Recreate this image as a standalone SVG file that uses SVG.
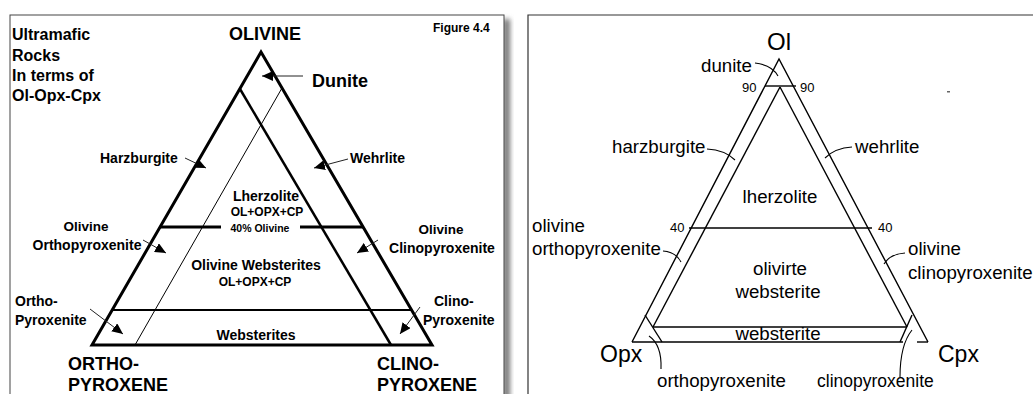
<svg xmlns="http://www.w3.org/2000/svg" width="1033" height="394" viewBox="0 0 1033 394">
<defs>
<filter id="sh" x="-50%" y="-10%" width="200%" height="120%"><feGaussianBlur stdDeviation="2.5"/></filter>
<marker id="ah" markerUnits="userSpaceOnUse" markerWidth="12" markerHeight="10" refX="11" refY="5" orient="auto"><path d="M0,0 L11,5 L0,10 Z" fill="#000"/></marker>
</defs>
<style>
.b{font-family:"Liberation Sans",Arial,sans-serif;font-weight:bold;fill:#000}
.r{font-family:"Liberation Sans",Arial,sans-serif;fill:#000;font-size:18.7px}
.m{text-anchor:middle}
.thick{stroke:#000;stroke-width:3;fill:none}
.med{stroke:#000;stroke-width:2.5;fill:none}
.thin{stroke:#000;stroke-width:1;fill:none}
.arr{stroke:#222;stroke-width:1;fill:none;marker-end:url(#ah)}
.ln{stroke:#000;stroke-width:1.4;fill:none}
.tk{stroke:#000;stroke-width:1.1;fill:none}
</style>
<rect width="1033" height="394" fill="#fff"/>
<g id="left-panel">
<rect x="503" y="19" width="7" height="390" fill="#777" filter="url(#sh)"/>
<rect x="10" y="15" width="494" height="400" fill="#fff" stroke="#444" stroke-width="1"/>
</g>
<g id="left-diagram">
<path class="thick" d="M261,52 L432,345 L92,345 Z" stroke-linejoin="miter"/>
<line class="med" x1="240" y1="89" x2="391" y2="345"/>
<line class="thin" x1="282" y1="88" x2="135" y2="345"/>
<line class="thick" x1="160" y1="227" x2="221" y2="227"/>
<line class="thick" x1="300" y1="227" x2="363" y2="227"/>
<line stroke="#000" stroke-width="2" x1="112" y1="310" x2="411" y2="310"/>
</g>
<g id="left-connectors">
<line class="arr" x1="303" y1="76" x2="262" y2="76"/>
<line class="arr" x1="185" y1="158" x2="206" y2="168"/>
<line class="arr" x1="348" y1="159" x2="314" y2="168"/>
<line class="arr" x1="143" y1="240" x2="166" y2="253"/>
<line class="arr" x1="378" y1="240" x2="357" y2="253"/>
<line class="arr" x1="90" y1="309" x2="123" y2="334"/>
<line class="arr" x1="420" y1="307" x2="400" y2="334"/>
</g>
<g id="left-labels">
<text class="b" x="12" y="40" font-size="16">Ultramafic</text>
<text class="b" x="12" y="61" font-size="16">Rocks</text>
<text class="b" x="12" y="81" font-size="16">In terms of</text>
<text class="b" x="12" y="101" font-size="16">Ol-Opx-Cpx</text>
<text class="b m" x="265" y="40" font-size="18">OLIVINE</text>
<text class="b" x="433" y="32" font-size="12">Figure 4.4</text>
<text class="b" x="312" y="87" font-size="18">Dunite</text>
<text class="b" x="100" y="163" font-size="14">Harzburgite</text>
<text class="b" x="350" y="163" font-size="14">Wehrlite</text>
<text class="b m" x="266" y="201" font-size="14">Lherzolite</text>
<text class="b m" x="267" y="216" font-size="12">OL+OPX+CP</text>
<text class="b m" x="260" y="232" font-size="10.5">40% Olivine</text>
<text class="b m" x="86" y="231" font-size="13.5">Olivine</text>
<text class="b m" x="87" y="250" font-size="14">Orthopyroxenite</text>
<text class="b m" x="441" y="234" font-size="13.5">Olivine</text>
<text class="b m" x="442" y="253" font-size="14">Clinopyroxenite</text>
<text class="b m" x="256" y="270" font-size="14">Olivine Websterites</text>
<text class="b m" x="255" y="286" font-size="12">OL+OPX+CP</text>
<text class="b" x="15" y="306" font-size="14">Ortho-</text>
<text class="b" x="15" y="325" font-size="14">Pyroxenite</text>
<text class="b" x="434" y="306" font-size="14">Clino-</text>
<text class="b" x="423" y="325" font-size="14">Pyroxenite</text>
<text class="b m" x="256" y="340" font-size="14">Websterites</text>
<text class="b" x="68" y="370" font-size="18">ORTHO-</text>
<text class="b" x="68" y="391" font-size="18">PYROXENE</text>
<text class="b" x="377" y="370" font-size="18">CLINO-</text>
<text class="b" x="377" y="391" font-size="18">PYROXENE</text>
</g>
<g id="right-panel">
<path d="M528,394 L528,15 L1033,15" stroke="#333" stroke-width="1.2" fill="none"/>
<rect x="947" y="91" width="3" height="1.5" fill="#666"/>
</g>
<g id="right-diagram">
<path class="ln" d="M632,342 L779,59 L928,342"/>
<line class="ln" x1="765" y1="86" x2="796" y2="86"/>
<line class="ln" x1="780" y1="87" x2="653" y2="327"/>
<line class="ln" x1="780" y1="87" x2="907" y2="327"/>
<line class="ln" x1="689" y1="228" x2="872" y2="228"/>
<line class="ln" x1="653" y1="327" x2="907" y2="327"/>
<line class="ln" x1="632" y1="342" x2="903" y2="342"/>
<line class="ln" x1="917" y1="342" x2="928" y2="342"/>
<line class="ln" x1="645" y1="315" x2="662" y2="342"/>
<line class="ln" x1="912" y1="315" x2="900" y2="342"/>
</g>
<g id="right-connectors">
<path class="tk" d="M755,63 Q772,65 778,76"/>
<path class="tk" d="M707,149 Q725,150 735,160"/>
<path class="tk" d="M852,147 Q835,148 825,158"/>
<path class="tk" d="M663,251 Q676,252 681,262"/>
<path class="tk" d="M905,253 Q890,254 884,264"/>
<path class="tk" d="M649,336 Q662,345 661,369"/>
<path class="tk" d="M912,330 Q900,345 900,377"/>
</g>
<g id="right-labels">
<text class="r m" x="779" y="50" font-size="24" style="font-size:24px">Ol</text>
<text class="r" x="701" y="72">dunite</text>
<text class="r" x="742" y="92" style="font-size:13px">90</text>
<text class="r" x="800" y="92" style="font-size:13px">90</text>
<text class="r" x="612" y="153">harzburgite</text>
<text class="r" x="855" y="153">wehrlite</text>
<text class="r m" x="780" y="203">lherzolite</text>
<text class="r" x="670" y="232" style="font-size:13px">40</text>
<text class="r" x="878" y="232" style="font-size:13px">40</text>
<text class="r" x="532" y="232">olivine</text>
<text class="r" x="532" y="255">orthopyroxenite</text>
<text class="r m" x="780" y="275">olivirte</text>
<text class="r m" x="778" y="298">websterite</text>
<text class="r" x="908" y="255">olivine</text>
<text class="r" x="908" y="279">clinopyroxenite</text>
<text class="r m" x="778" y="340">websterite</text>
<text class="r" x="600" y="362" style="font-size:23px">Opx</text>
<text class="r" x="938" y="362" style="font-size:23px">Cpx</text>
<text class="r" x="657" y="387">orthopyroxenite</text>
<text class="r" x="817" y="387" style="font-size:17.5px">clinopyroxenite</text>
</g>
</svg>
